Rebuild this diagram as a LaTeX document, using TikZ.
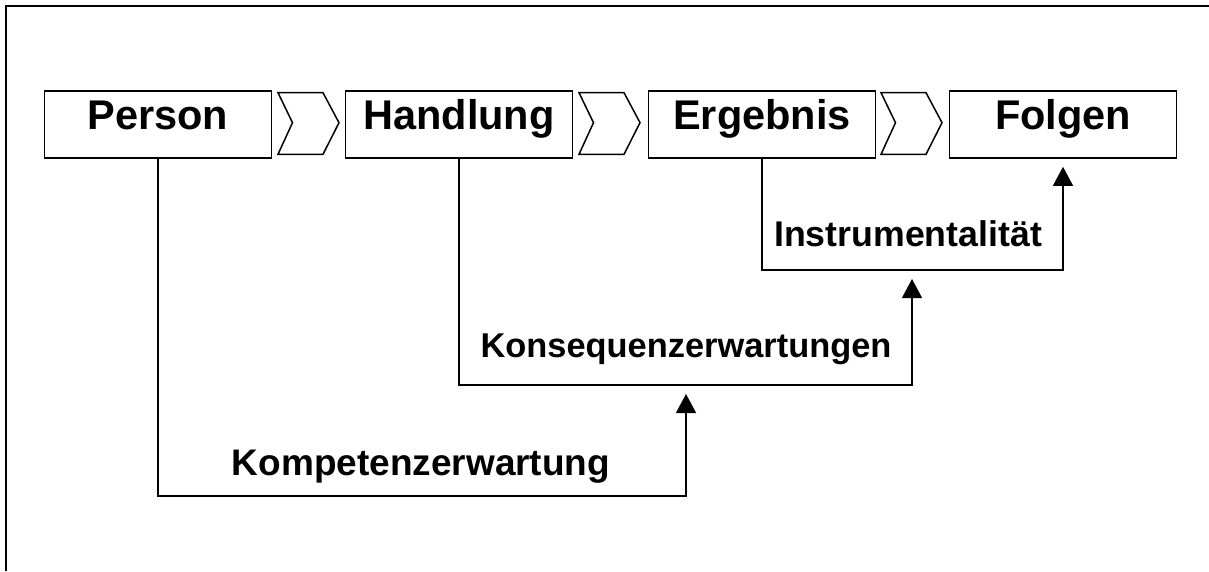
\documentclass[tikz,border=0pt]{standalone}
\usepackage{fontspec}
\setmainfont{Liberation Sans}
\usetikzlibrary{arrows.meta}
\begin{document}
\begin{tikzpicture}[x=1pt,y=-1pt,
  stagebox/.style={draw,line width=1.6pt,inner sep=0pt,minimum width=227pt,
    text height=38.5pt,text depth=28.5pt,anchor=base,
    font=\bfseries\fontsize{41.5}{48}\selectfont},
  lbl/.style={inner sep=0pt,anchor=base,font=\bfseries\fontsize{35}{40}\selectfont},
  conn/.style={line width=1.4pt,-{Triangle[width=20pt,length=19pt]}},
  chev/.pic={\draw[line width=1.5pt,line join=miter] (0,0) -- (45,0) -- (61,30) -- (45,61.6) -- (0,61.6) -- (14.5,30) -- cycle;}]
\useasboundingbox (0,0) rectangle (1209,571);
% frame
\draw[line width=2pt] (1209,6) -- (6,6) -- (6,571);
% stages
\node[stagebox] (person)   at (158,129.5)  {Person};
\node[stagebox] (handlung) at (459,129.5)  {Handlung};
\node[stagebox] (ergebnis) at (762,129.5)  {Ergebnis};
\node[stagebox] (folgen)   at (1063,129.5) {Folgen};
% chevrons
\pic at (278,92.7) {chev};
\pic at (579,92.7) {chev};
\pic at (881,92.7) {chev};
% connector coordinates
\coordinate (kcorner) at (686,496);
\coordinate (ktip) at (686,394);
\coordinate (qcorner) at (912,385);
\coordinate (qtip) at (912,279);
\coordinate (icorner) at (1063,270);
% connectors
\draw[conn] (person.south) |- (kcorner) -- (ktip);
\draw[conn] (handlung.south) |- (qcorner) -- (qtip);
\draw[conn,shorten >=8pt] (ergebnis.south) |- (icorner) -- (folgen.south);
% labels
\node[lbl,font=\bfseries\fontsize{37}{42}\selectfont] (kompetenz) at (421,475) {Kompetenzerwartung};
\node[lbl,font=\bfseries\fontsize{34.4}{40}\selectfont] (konsequenz) at (686,357.7) {Konsequenzerwartungen};
\node[lbl,font=\bfseries\fontsize{35.7}{40}\selectfont] (instrument) at (908,246) {Instrumentalität};
\end{tikzpicture}
\end{document}
